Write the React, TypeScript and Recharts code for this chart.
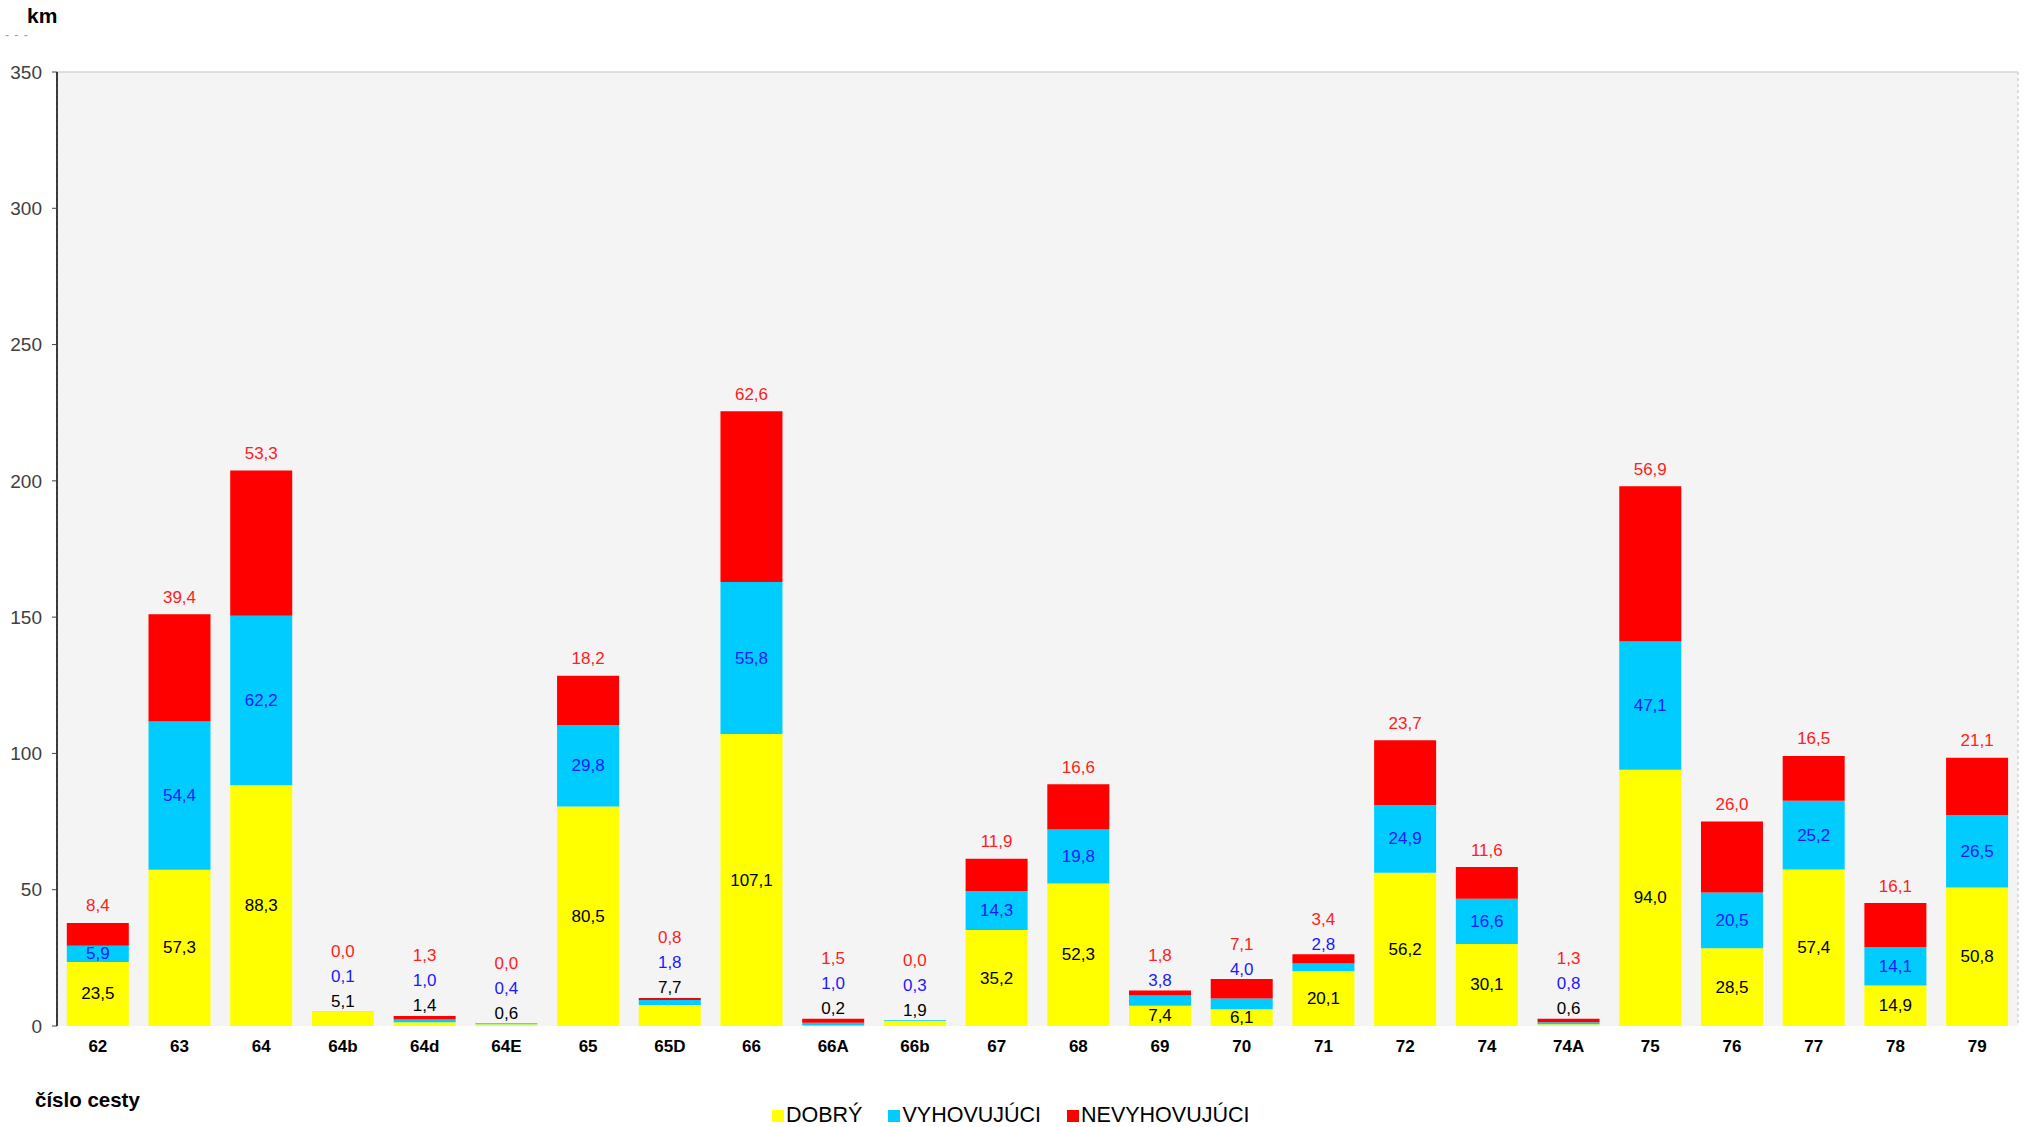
import React from "react";
import {
  BarChart,
  Bar,
  XAxis,
  YAxis,
  CartesianGrid,
  LabelList,
  Legend,
  ReferenceLine,
} from "recharts";

const cesty = ["62", "63", "64", "64b", "64d", "64E", "65", "65D", "66", "66A", "66b", "67", "68", "69", "70", "71", "72", "74", "74A", "75", "76", "77", "78", "79"];
const dobry = [23.5, 57.3, 88.3, 5.1, 1.4, 0.6, 80.5, 7.7, 107.1, 0.2, 1.9, 35.2, 52.3, 7.4, 6.1, 20.1, 56.2, 30.1, 0.6, 94.0, 28.5, 57.4, 14.9, 50.8];
const vyhovujuci = [5.9, 54.4, 62.2, 0.1, 1.0, 0.4, 29.8, 1.8, 55.8, 1.0, 0.3, 14.3, 19.8, 3.8, 4.0, 2.8, 24.9, 16.6, 0.8, 47.1, 20.5, 25.2, 14.1, 26.5];
const nevyhovujuci = [8.4, 39.4, 53.3, 0.0, 1.3, 0.0, 18.2, 0.8, 62.6, 1.5, 0.0, 11.9, 16.6, 1.8, 7.1, 3.4, 23.7, 11.6, 1.3, 56.9, 26.0, 16.5, 16.1, 21.1];
const yTicks = [0, 50, 100, 150, 200, 250, 300, 350];
const boundaryTicks = cesty.map((_, i) => i).concat([cesty.length]);

const data = cesty.map((name, i) => ({
  name,
  dobry: dobry[i],
  vyhov: vyhovujuci[i],
  nevyh: nevyhovujuci[i],
}));

const FONT = '"Liberation Sans", Arial, sans-serif';
const C_YELLOW = "#ffff00";
const C_CYAN = "#00ccff";
const C_RED = "#ff0000";
const T_BLACK = "#000000";
const T_BLUE = "#1a1aff";
const T_RED = "#ff2020";

const fmt = (v: number) => v.toFixed(1).replace(".", ",");
const nameOf = (d: any) => d.name;

// segments too thin for their label get it stacked above the bar
const yellowInside = (i: number) => dobry[i] >= 6 && vyhovujuci[i] + nevyhovujuci[i] >= 3;
const blueInside = (i: number) => vyhovujuci[i] >= 5;
const anyAbove = (i: number) => !yellowInside(i) || !blueInside(i);

const labelText = (x: number, y: number, txt: string, color: string, key?: string) => (
  <text
    key={key}
    x={x}
    y={y}
    textAnchor="middle"
    dominantBaseline="central"
    fill={color}
    fontSize={17}
    fontFamily={FONT}
  >
    {txt}
  </text>
);

// yellow series: its own label inside, plus the stack of labels above small bars
const YellowLabel = (props: any) => {
  const { x, y, width, height, value } = props;
  const i = cesty.indexOf(value);
  if (i < 0) return null;
  const cx = x + width / 2;
  const out: React.ReactNode[] = [];
  if (yellowInside(i)) out.push(labelText(cx, y + height / 2, fmt(dobry[i]), T_BLACK, "in"));
  if (anyAbove(i)) {
    const ppu = height / dobry[i];
    const top = y + height - (dobry[i] + vyhovujuci[i] + nevyhovujuci[i]) * ppu;
    const above: [string, string][] = [];
    if (!yellowInside(i)) above.push([fmt(dobry[i]), T_BLACK]);
    if (!blueInside(i)) above.push([fmt(vyhovujuci[i]), T_BLUE]);
    above.push([fmt(nevyhovujuci[i]), T_RED]);
    above.forEach(([t, c], k) => out.push(labelText(cx, top - 10 - 25 * k, t, c, "a" + k)));
  }
  return <g>{out}</g>;
};

const BlueLabel = (props: any) => {
  const { x, y, width, height, value } = props;
  const i = cesty.indexOf(value);
  if (i < 0 || !blueInside(i)) return null;
  return labelText(x + width / 2, y + height / 2, fmt(vyhovujuci[i]), T_BLUE);
};

const RedLabel = (props: any) => {
  const { x, y, width, value } = props;
  const i = cesty.indexOf(value);
  if (i < 0 || anyAbove(i)) return null;
  return labelText(x + width / 2, y - 17, fmt(nevyhovujuci[i]), T_RED);
};

const legendItems = [
  { label: "DOBRÝ", color: C_YELLOW },
  { label: "VYHOVUJÚCI", color: C_CYAN },
  { label: "NEVYHOVUJÚCI", color: C_RED },
];

const LegendContent = () => (
  <div style={{ display: "flex", alignItems: "center", fontFamily: FONT, fontSize: 21.5, color: "#000", whiteSpace: "nowrap" }}>
    {legendItems.map((it) => (
      <div key={it.label} style={{ display: "flex", alignItems: "center", marginRight: 26 }}>
        <span style={{ display: "inline-block", width: 12, height: 12, background: it.color, marginRight: 2 }} />
        <span>{it.label}</span>
      </div>
    ))}
  </div>
);

export default function App() {
  return (
    <div style={{ position: "absolute", left: 0, top: 0, width: 2029, height: 1127, background: "#fff", fontFamily: FONT }}>
      <div style={{ position: "absolute", left: 27, top: 4, fontSize: 21, fontWeight: "bold" }}>km</div>
      <div style={{ position: "absolute", left: 5, top: 28, fontSize: 12, color: "#999", letterSpacing: 1 }}>- - -</div>
      <div style={{ position: "absolute", left: 35, top: 1088, fontSize: 20.5, fontWeight: "bold" }}>číslo cesty</div>
      <BarChart
        width={2029}
        height={1127}
        data={data}
        margin={{ top: 72, right: 11, left: 0, bottom: 61 }}
        barCategoryGap="12%"
      >
        <CartesianGrid
          xAxisId="b"
          horizontal={false}
          vertical
          strokeDasharray="3 3"
          stroke="#bdbdbd"
          fill="#f4f4f4"
        />
        <XAxis
          xAxisId="b"
          type="number"
          domain={[0, cesty.length]}
          ticks={boundaryTicks}
          height={0}
          tick={false}
          tickSize={6}
          axisLine={{ stroke: "#000", strokeWidth: 1.5 }}
          tickLine={{ stroke: "#555" }}
          allowDataOverflow
        />
        <XAxis
          xAxisId="cat"
          dataKey="name"
          height={40}
          axisLine={false}
          tickLine={false}
          tickSize={0}
          tickMargin={14}
          interval={0}
          tick={{ fontSize: 17, fontWeight: "bold", fill: "#000", fontFamily: FONT }}
        />
        <YAxis
          width={57}
          domain={[0, 350]}
          ticks={yTicks}
          tickSize={5}
          tickMargin={10}
          axisLine={{ stroke: "#000", strokeWidth: 1.5 }}
          tickLine={{ stroke: "#444" }}
          tick={{ fontSize: 19, fill: "#404040", fontFamily: FONT }}
        />
        <ReferenceLine xAxisId="b" y={350} stroke="#d6d6d6" strokeWidth={1.5} />
        <ReferenceLine xAxisId="b" x={cesty.length} stroke="#a8a8a8" strokeWidth={1.5} />
        <Legend
          layout="horizontal"
          verticalAlign="middle"
          align="center"
          content={<LegendContent />}
          wrapperStyle={{ left: 772, top: 1103, width: "auto" }}
        />
        <Bar xAxisId="cat" dataKey="dobry" name="DOBRÝ" stackId="a" fill={C_YELLOW} isAnimationActive={false}>
          <LabelList dataKey={nameOf} content={<YellowLabel />} />
        </Bar>
        <Bar xAxisId="cat" dataKey="vyhov" name="VYHOVUJÚCI" stackId="a" fill={C_CYAN} isAnimationActive={false}>
          <LabelList dataKey={nameOf} content={<BlueLabel />} />
        </Bar>
        <Bar xAxisId="cat" dataKey="nevyh" name="NEVYHOVUJÚCI" stackId="a" fill={C_RED} isAnimationActive={false}>
          <LabelList dataKey={nameOf} content={<RedLabel />} />
        </Bar>
      </BarChart>
    </div>
  );
}
